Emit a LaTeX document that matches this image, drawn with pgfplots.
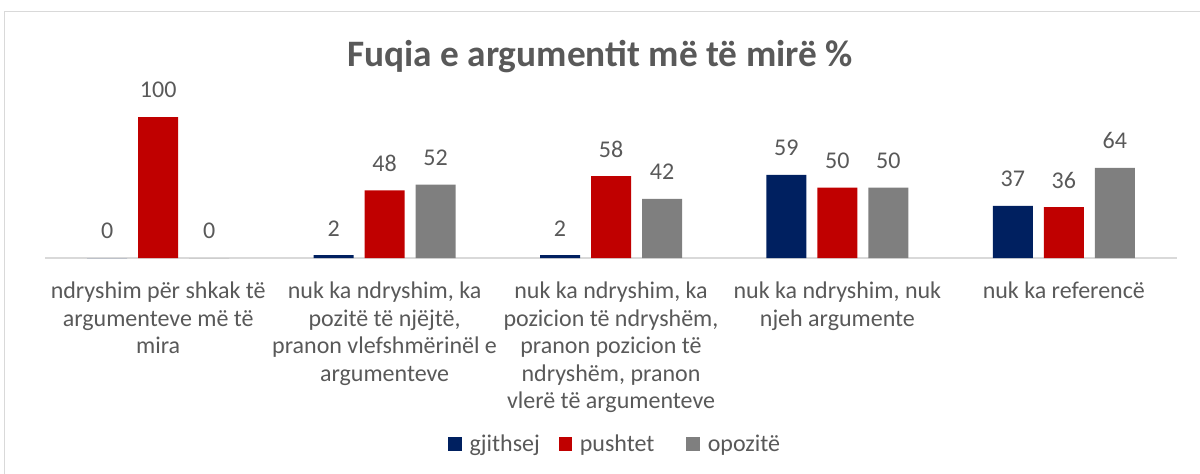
\documentclass[border=0pt]{standalone}
\usepackage{pgfplots}
\pgfplotsset{compat=1.18}
\usepackage{fontspec}
\setmainfont{Carlito}
\definecolor{cnavy}{HTML}{002060}
\definecolor{cred}{HTML}{C00000}
\definecolor{cgray}{HTML}{7F7F7F}
\definecolor{tgray}{HTML}{595959}
\definecolor{fgray}{HTML}{D9D9D9}
\begin{document}
\hyphenpenalty=10000
\exhyphenpenalty=10000
\begin{tikzpicture}
\useasboundingbox (0,0) rectangle (900pt,-355.5pt);
\draw[fgray, line width=0.75pt] (3pt,-355.5pt) -- (3pt,-9pt) -- (900pt,-9pt);
\node[font=\fontsize{28}{32}\selectfont\bfseries, text=tgray] at (450pt,-42.75pt) {Fuqia e argumentit më të mirë \%};
\begin{axis}[
  at={(33.75pt,-193.5pt)}, anchor=south west,
  scale only axis, width=849pt, height=105.75pt,
  ymin=0, ymax=100, xmin=-0.5, xmax=4.5,
  clip=false,
  axis x line=bottom, axis y line=none,
  axis line style={fgray, line width=1pt, -},
  ybar, bar width=30pt,
  xtick={0,1,2,3,4}, major tick length=0pt,
  xticklabels={{ndryshim për shkak të\\argumenteve më të\\mira},
               {nuk ka ndryshim, ka\\pozitë të njëjtë,\\pranon vlefshmërinël e\\argumenteve},
               {nuk ka ndryshim, ka\\pozicion të ndryshëm,\\pranon pozicion të\\ndryshëm, pranon\\vlerë të argumenteve},
               {nuk ka ndryshim, nuk\\njeh argumente},
               {nuk ka referencë}},
  xticklabel style={align=center, anchor=north, inner sep=0pt, yshift=-18pt,
     font=\fontsize{18}{20.6}\selectfont, text=tgray},
  nodes near coords,
  /pgf/number format/assume math mode=true,
  every node near coord/.append style={font=\fontsize{18}{18}\selectfont, text=tgray, anchor=south, inner sep=0pt, yshift=14pt},
  legend style={at={(0.504,-1.319)}, anchor=center, draw=none, fill=none, legend columns=3,
     font=\fontsize{18}{18}\selectfont, text=tgray,
     /tikz/column 1/.style={column sep=4pt},
     /tikz/column 2/.style={column sep=12pt},
     /tikz/column 3/.style={column sep=4pt},
     /tikz/column 4/.style={column sep=22pt},
     /tikz/column 5/.style={column sep=4pt}},
  legend image code/.code={\fill[#1] (0pt,-5pt) rectangle (10pt,5pt);},
]
\addplot[fill=cnavy, draw=none, bar shift=-38.25pt] coordinates {(0,0) (1,2) (2,2) (3,59) (4,37)};
\addplot[fill=cred, draw=none, bar shift=0pt] coordinates {(0,100) (1,48) (2,58) (3,50) (4,36)};
\addplot[fill=cgray, draw=none, bar shift=38.25pt] coordinates {(0,0) (1,52) (2,42) (3,50) (4,64)};
\legend{gjithsej, pushtet, opozitë}
\end{axis}
\end{tikzpicture}
\end{document}
